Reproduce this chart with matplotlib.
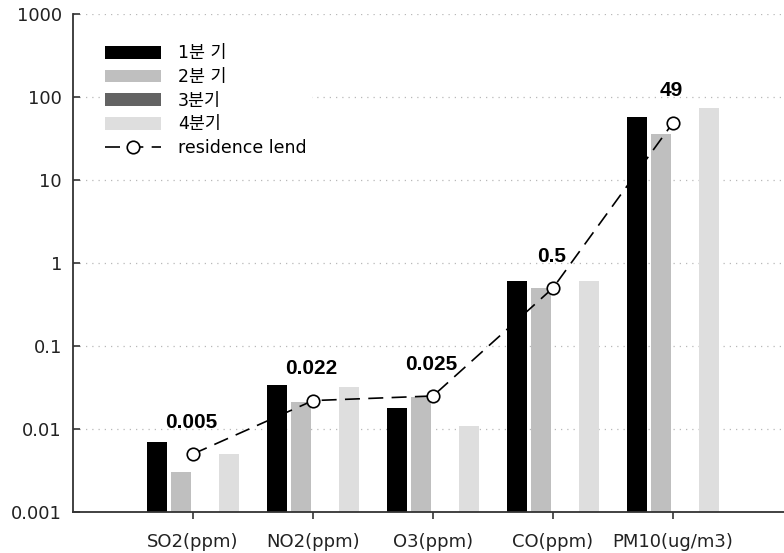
import numpy as np
import matplotlib
matplotlib.use("Agg")
import matplotlib.pyplot as plt

plt.rcParams['font.family'] = ['DejaVu Sans', 'Noto Sans CJK KR']

categories = ["SO2(ppm)", "NO2(ppm)", "O3(ppm)", "CO(ppm)", "PM10(ug/m3)"]
series_names = ["1분 기", "2분 기", "3분기", "4분기"]
q1 = [0.007, 0.034, 0.018, 0.6, 57]
q2 = [0.003, 0.021, 0.024, 0.5, 36]
q3 = [np.nan, np.nan, np.nan, np.nan, np.nan]
q4 = [0.005, 0.032, 0.011, 0.6, 74]
residence = [0.005, 0.022, 0.025, 0.5, 49]
residence_labels = ["0.005", "0.022", "0.025", "0.5", "49"]
line_name = "residence lend"
yticks = [0.001, 0.01, 0.1, 1, 10, 100, 1000]
ytick_labels = ["0.001", "0.01", "0.1", "1", "10", "100", "1000"]

colors = ["#000000", "#bfbfbf", "#636363", "#dedede"]

fig = plt.figure(figsize=(7.84, 5.53), dpi=100)
ax = fig.add_axes([73 / 784, 1 - 512 / 553, 1 - 73 / 784, (512 - 14) / 553])
ax.set_yscale("log")

x = np.arange(len(categories))
slot = 0.2
width = 0.167
handles = []
for i, (vals, name, c) in enumerate(zip([q1, q2, q3, q4], series_names, colors)):
    b = ax.bar(x + (i - 1.5) * slot, vals, width=width,
               color=c, edgecolor="none", label=name, zorder=2)
    handles.append(b)

line, = ax.plot(x, residence, color="black", lw=1.2, linestyle=(0, (9, 5)),
                marker="o", markersize=9, markerfacecolor="white",
                markeredgecolor="black", markeredgewidth=1.2,
                label=line_name, zorder=4)
handles.append(line)

for xi, v, lab in zip(x, residence, residence_labels):
    ax.annotate(lab, (xi, v), xytext=(-1, 23), textcoords="offset points",
                ha="center", va="center", fontsize=15, fontweight="bold",
                family="Liberation Sans", zorder=5)

ax.set_ylim(0.001, 1000)
ax.set_xlim(-1, 4.925)
ax.set_yticks(yticks)
ax.set_yticklabels(ytick_labels)
ax.yaxis.set_minor_locator(matplotlib.ticker.NullLocator())
ax.set_xticks(x)
ax.set_xticklabels(categories)

ax.grid(axis="y", which="major", linestyle=(0, (1, 4)), color="#b8b8b8",
        linewidth=0.9, zorder=0)
ax.set_axisbelow(True)

for s in ["top", "right"]:
    ax.spines[s].set_visible(False)
for s in ["left", "bottom"]:
    ax.spines[s].set_color("#333333")
    ax.spines[s].set_linewidth(1.3)

ax.tick_params(axis="y", direction="in", length=5, width=1.2, color="#333333",
               labelsize=13, pad=8, labelcolor="#222222")
ax.tick_params(axis="x", direction="out", length=5, width=1.2, color="#333333",
               labelsize=13, pad=10, labelcolor="#222222")

leg = ax.legend(handles=handles, loc="upper left",
                bbox_to_anchor=(100 / 784, 1 - 39 / 553),
                bbox_transform=fig.transFigure, fontsize=12.5,
                frameon=True, facecolor="white", edgecolor="none",
                framealpha=1, fancybox=False, handlelength=3.2,
                handleheight=0.75, labelspacing=0.33, borderpad=0.3,
                borderaxespad=0, handletextpad=1.0)
leg.set_zorder(6)

fig.savefig("out.png", dpi=100)
